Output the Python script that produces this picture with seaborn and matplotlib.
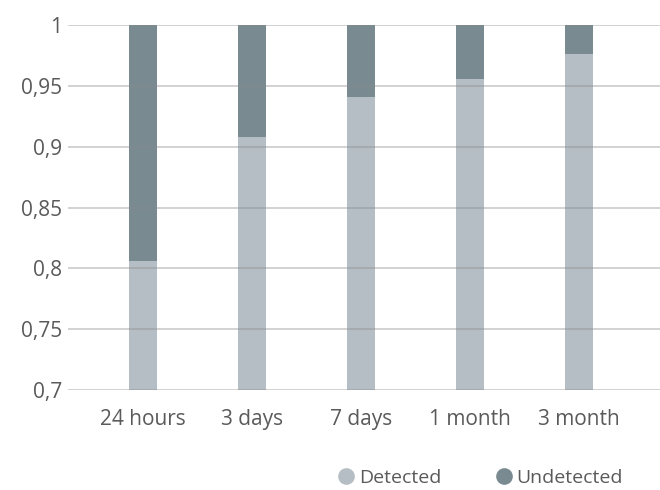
import matplotlib.pyplot as plt
import seaborn as sns
import pandas as pd
from matplotlib.lines import Line2D

categories = ["24 hours", "3 days", "7 days", "1 month", "3 month"]
detected = [0.806, 0.908, 0.941, 0.956, 0.976]
undetected = [1 - d for d in detected]
yticks = [0.7, 0.75, 0.8, 0.85, 0.9, 0.95, 1.0]
ytick_labels = ["0,7", "0,75", "0,8", "0,85", "0,9", "0,95", "1"]

c_det = "#b5bec4"
c_und = "#798b91"
txt = "#5a5a5a"

sns.set_theme(style="white")
plt.rcParams['font.family'] = ['Open Sans', 'DejaVu Sans']

df = pd.DataFrame({"cat": categories, "det": detected,
                   "total": [d + u for d, u in zip(detected, undetected)]})

fig = plt.figure(figsize=(6.6, 4.9), dpi=100)
ax = fig.add_axes([68 / 660, 1 - 390 / 490, 1 - 68 / 660, (390 - 25) / 490])

sns.barplot(data=df, x="cat", y="total", color=c_und, width=0.26,
            saturation=1, linewidth=0, ax=ax)
sns.barplot(data=df, x="cat", y="det", color=c_det, width=0.26,
            saturation=1, linewidth=0, ax=ax)

ax.set_ylim(0.7, 1.0)
ax.set_xlim(-0.69, 4.74)
ax.set_yticks(yticks)
ax.set_yticklabels(ytick_labels)
ax.set_xlabel("")
ax.set_ylabel("")
ax.set_axisbelow(False)
ax.yaxis.grid(True, color="#8a8a8a", alpha=0.45, linewidth=1.2)
ax.tick_params(axis="both", length=0, labelsize=15, colors=txt)
ax.tick_params(axis="x", pad=14)
ax.tick_params(axis="y", pad=4)
sns.despine(ax=ax, left=True, bottom=True)

handles = [Line2D([0], [0], marker="o", color="none", markerfacecolor=c_det,
                  markeredgecolor="none", markersize=12),
           Line2D([0], [0], marker="o", color="none", markerfacecolor=c_und,
                  markeredgecolor="none", markersize=12)]
fig.legend(handles, ["Detected", "Undetected"], loc="center",
           bbox_to_anchor=(0.727, 1 - 478 / 490), ncol=2, frameon=False,
           fontsize=14, labelcolor=txt, handletextpad=0.15,
           columnspacing=2.7, handlelength=1.0, borderpad=0.2)

fig.savefig("out.png", dpi=100)
